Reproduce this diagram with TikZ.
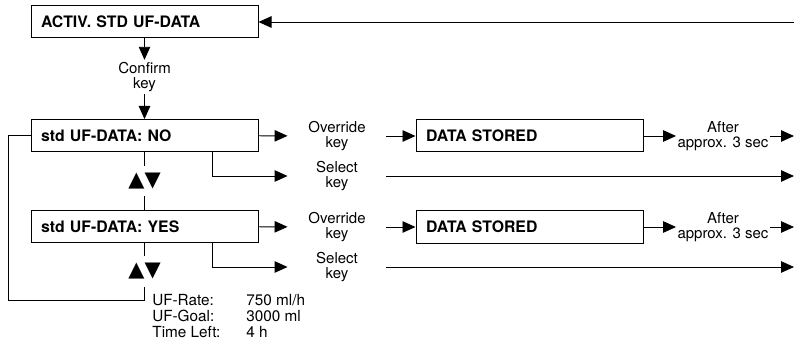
\documentclass[tikz,border=0pt]{standalone}
\usepackage{fontspec}
\setmainfont{TeX Gyre Heros}
\newfontfamily\symfont{DejaVu Sans}
\usetikzlibrary{arrows.meta}
\begin{document}
\begin{tikzpicture}[x=1pt,y=-1pt,line width=0.9pt,
  arr/.style={-{Triangle[length=13pt,width=11.5pt]}},
  screen/.style={draw,line width=1pt,minimum height=32pt,text width=207pt,
    inner xsep=10pt,align=left,font=\fontsize{15.8}{13.5}\selectfont\bfseries},
  keylbl/.style={minimum width=98pt,inner xsep=0pt,align=center,
    font=\fontsize{15}{15}\selectfont},
  updown/.style={inner ysep=7pt,font=\symfont\fontsize{21}{21}\selectfont}]
\useasboundingbox (0,0) rectangle (794,347);

% screens
\node[screen] (activ) at (144.5,22) {ACTIV. STD UF-DATA};
\node[screen] (no) at (144.5,135.5) {std UF-DATA: NO};
\node[screen] (yes) at (144.5,226.5) {std UF-DATA: YES};
\node[screen] (stored1) at (529.5,136) {DATA STORED};
\node[screen] (stored2) at (529.5,227) {DATA STORED};

% key labels
\node[keylbl,minimum width=0pt,inner ysep=2pt] (confirm) at (144.5,77) {Confirm\\key};
\node[keylbl] (over1) at (337,136) {Override\\key};
\node[keylbl] (sel1) at (337,176) {Select\\key};
\node[keylbl] (over2) at (337,227) {Override\\key};
\node[keylbl] (sel2) at (337,267) {Select\\key};
\node[keylbl,minimum width=0pt,inner xsep=1pt] (after1) at (723,136) {After\\approx. 3 sec};
\node[keylbl,minimum width=0pt,inner xsep=1pt] (after2) at (723,227) {After\\approx. 3 sec};

% up/down keys
\node[updown] (ud1) at (144.5,181) {▲▼};
\node[updown] (ud2) at (144.5,271.5) {▲▼};

\node[anchor=north west,inner sep=0pt,font=\fontsize{15.3}{16}\selectfont] (info) at (152,294)
  {\begin{tabular}{@{}p{94pt}@{}l@{}}
   UF-Rate: & 750 ml/h\\
   UF-Goal: & 3000 ml\\
   Time Left: & 4 h
   \end{tabular}};

% return points at the right edge
\coordinate (ret0) at (794,22);
\coordinate (ret1) at (794,136);
\coordinate (ret2) at (794,176);
\coordinate (ret3) at (794,227);
\coordinate (ret4) at (794,267);
\coordinate (loop) at (8,300);

\draw[arr] (ret0) -- (activ);
\draw[arr] (activ) -- (confirm);
\draw[arr] (confirm) -- (no);

\draw (no) -- (ud1);
\draw (ud1) -- (yes);
\draw (ud2) |- (loop) |- (no.west);
\draw (yes) -- (ud2);

\draw[arr] (no) -- (over1);
\draw[arr] (over1) -- (stored1);
\draw[arr] (stored1) -- (after1);
\draw[arr] (after1) -- (ret1);
\draw[arr] ([xshift=67.5pt]no.south) |- (sel1);
\draw[arr] (sel1) -- (ret2);

\draw[arr] (yes) -- (over2);
\draw[arr] (over2) -- (stored2);
\draw[arr] (stored2) -- (after2);
\draw[arr] (after2) -- (ret3);
\draw[arr] ([xshift=67.5pt]yes.south) |- (sel2);
\draw[arr] (sel2) -- (ret4);
\end{tikzpicture}
\end{document}
